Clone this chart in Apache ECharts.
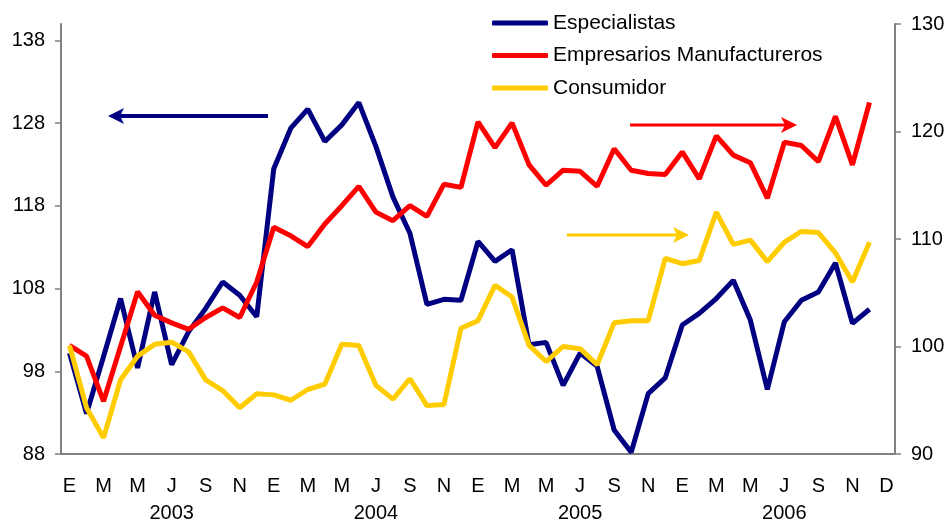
<!DOCTYPE html>
<html>
<head>
<meta charset="utf-8">
<script src="https://cdn.jsdelivr.net/npm/echarts@6/dist/echarts.min.js"></script>
<style>
  html, body { margin: 0; padding: 0; background: #fff; }
  #chart { width: 948px; height: 520px; }
</style>
</head>
<body>
<div id="chart"></div>
<script>
// tick labels (every other month), last one closes the axis
const monthTicks = ['E','M','M','J','S','N','E','M','M','J','S','N','E','M','M','J','S','N','E','M','M','J','S','N','D'];
const yearLabels = ['2003','2004','2005','2006'];

// monthly indices, Jan 2003 - Dec 2006
const especialistas = [100.2, 92.9, 99.8, 106.8, 98.4, 107.6, 98.8, 102.8, 105.6, 108.8, 107.2, 104.6,
  122.5, 127.4, 129.7, 125.8, 127.8, 130.5, 125.2, 119.1, 114.7, 106.1, 106.7, 106.6,
  113.7, 111.3, 112.7, 101.2, 101.5, 96.3, 100.2, 98.6, 90.9, 88.2, 95.3, 97.2,
  103.6, 105.0, 106.8, 109.0, 104.2, 95.8, 104.0, 106.6, 107.6, 111.1, 103.8, 105.5];
const empresarios = [100.1, 99.1, 94.9, 100.0, 105.1, 102.9, 102.2, 101.6, 102.7, 103.6, 102.7, 106.0,
  111.1, 110.3, 109.3, 111.4, 113.1, 114.9, 112.5, 111.7, 113.1, 112.1, 115.1, 114.8,
  120.9, 118.5, 120.8, 116.9, 115.0, 116.4, 116.3, 114.9, 118.4, 116.4, 116.1, 116.0,
  118.1, 115.6, 119.6, 117.8, 117.1, 113.8, 119.0, 118.7, 117.2, 121.4, 116.9, 122.7];
const consumidor = [100.1, 94.3, 91.5, 96.9, 99.1, 100.2, 100.4, 99.5, 96.9, 95.9, 94.3, 95.6,
  95.5, 95.0, 96.0, 96.5, 100.2, 100.1, 96.4, 95.1, 97.0, 94.5, 94.6, 101.7,
  102.4, 105.7, 104.6, 100.1, 98.6, 100.0, 99.8, 98.3, 102.2, 102.4, 102.4, 108.2,
  107.7, 108.0, 112.5, 109.5, 109.9, 107.9, 109.7, 110.7, 110.6, 108.7, 106.0, 109.7];

// one category per month plus one empty slot at the end
const categories = [];
for (let i = 0; i < monthTicks.length * 2 - 1; i++) {
  categories.push(i % 2 === 0 ? monthTicks[i / 2] : '');
}
const yearCats = categories.map((c, i) => (i % 12 === 6 && i / 12 < yearLabels.length) ? yearLabels[Math.floor(i / 12)] : '');

const font = 'Liberation Sans, Arial, sans-serif';
const axisGray = '#808080';

function arrow(x1, x2, y, color, w, dir) {
  // simple arrow annotation: shaft + notched head
  const tip = x2, back = x2 - dir * 16, notch = x2 - dir * 12;
  return {
    type: 'group',
    children: [
      { type: 'line', shape: { x1: x1, y1: y, x2: notch, y2: y }, style: { stroke: color, lineWidth: w } },
      { type: 'polygon', shape: { points: [[tip, y], [back, y - 8], [notch, y], [back, y + 8]] }, style: { fill: color } }
    ]
  };
}

const chart = echarts.init(document.getElementById('chart'), null, { renderer: 'canvas' });
chart.setOption({
  backgroundColor: '#fff',
  animation: false,
  textStyle: { fontFamily: font },
  grid: { left: 61, right: 53, top: 24, bottom: 66, containLabel: false, outerBoundsMode: 'none' },
  legend: {
    orient: 'vertical',
    left: 492,
    top: 11,
    padding: 0,
    icon: 'roundRect',
    itemWidth: 56,
    itemHeight: 5,
    itemGap: 8.5,
    textStyle: { fontSize: 21, color: '#000', fontFamily: font, lineHeight: 24 },
    data: ['Especialistas', 'Empresarios Manufactureros', 'Consumidor']
  },
  xAxis: [
    {
      type: 'category',
      data: categories,
      boundaryGap: true,
      axisLine: { lineStyle: { color: axisGray, width: 2 } },
      axisTick: { interval: 1, length: 6, lineStyle: { color: axisGray, width: 1.5 } },
      axisLabel: { interval: 1, margin: 22, fontSize: 20, color: '#000', fontFamily: font }
    },
    {
      type: 'category',
      data: yearCats,
      position: 'bottom',
      offset: 27,
      boundaryGap: true,
      axisLine: { show: false },
      axisTick: { show: false },
      axisLabel: { interval: 0, margin: 22, fontSize: 20, color: '#000', fontFamily: font }
    }
  ],
  yAxis: [
    {
      type: 'value',
      min: 88, max: 140, interval: 10,
      splitLine: { show: false },
      axisLine: { show: true, lineStyle: { color: axisGray, width: 2 } },
      axisTick: { show: true, length: 6, lineStyle: { color: axisGray, width: 1.5 } },
      axisLabel: { showMaxLabel: false, margin: 16, fontSize: 20, color: '#000', fontFamily: font }
    },
    {
      type: 'value',
      min: 90, max: 130, interval: 10,
      splitLine: { show: false },
      axisLine: { show: true, lineStyle: { color: axisGray, width: 2 } },
      axisTick: { show: true, length: 6, lineStyle: { color: axisGray, width: 1.5 } },
      axisLabel: { margin: 16, fontSize: 20, color: '#000', fontFamily: font }
    }
  ],
  series: [
    { name: 'Especialistas', type: 'line', yAxisIndex: 0, data: especialistas, symbol: 'none',
      color: '#000080', lineStyle: { width: 5, color: '#000080' } },
    { name: 'Empresarios Manufactureros', type: 'line', yAxisIndex: 1, data: empresarios, symbol: 'none',
      color: '#ff0000', lineStyle: { width: 5, color: '#ff0000' } },
    { name: 'Consumidor', type: 'line', yAxisIndex: 1, data: consumidor, symbol: 'none',
      color: '#ffcc00', lineStyle: { width: 5, color: '#ffcc00' } }
  ],
  graphic: [
    arrow(268, 108, 116, '#000080', 4, -1),
    arrow(630, 797, 125, '#ff0000', 3, 1),
    arrow(567, 689, 235, '#ffcc00', 3, 1)
  ]
});
</script>
</body>
</html>
